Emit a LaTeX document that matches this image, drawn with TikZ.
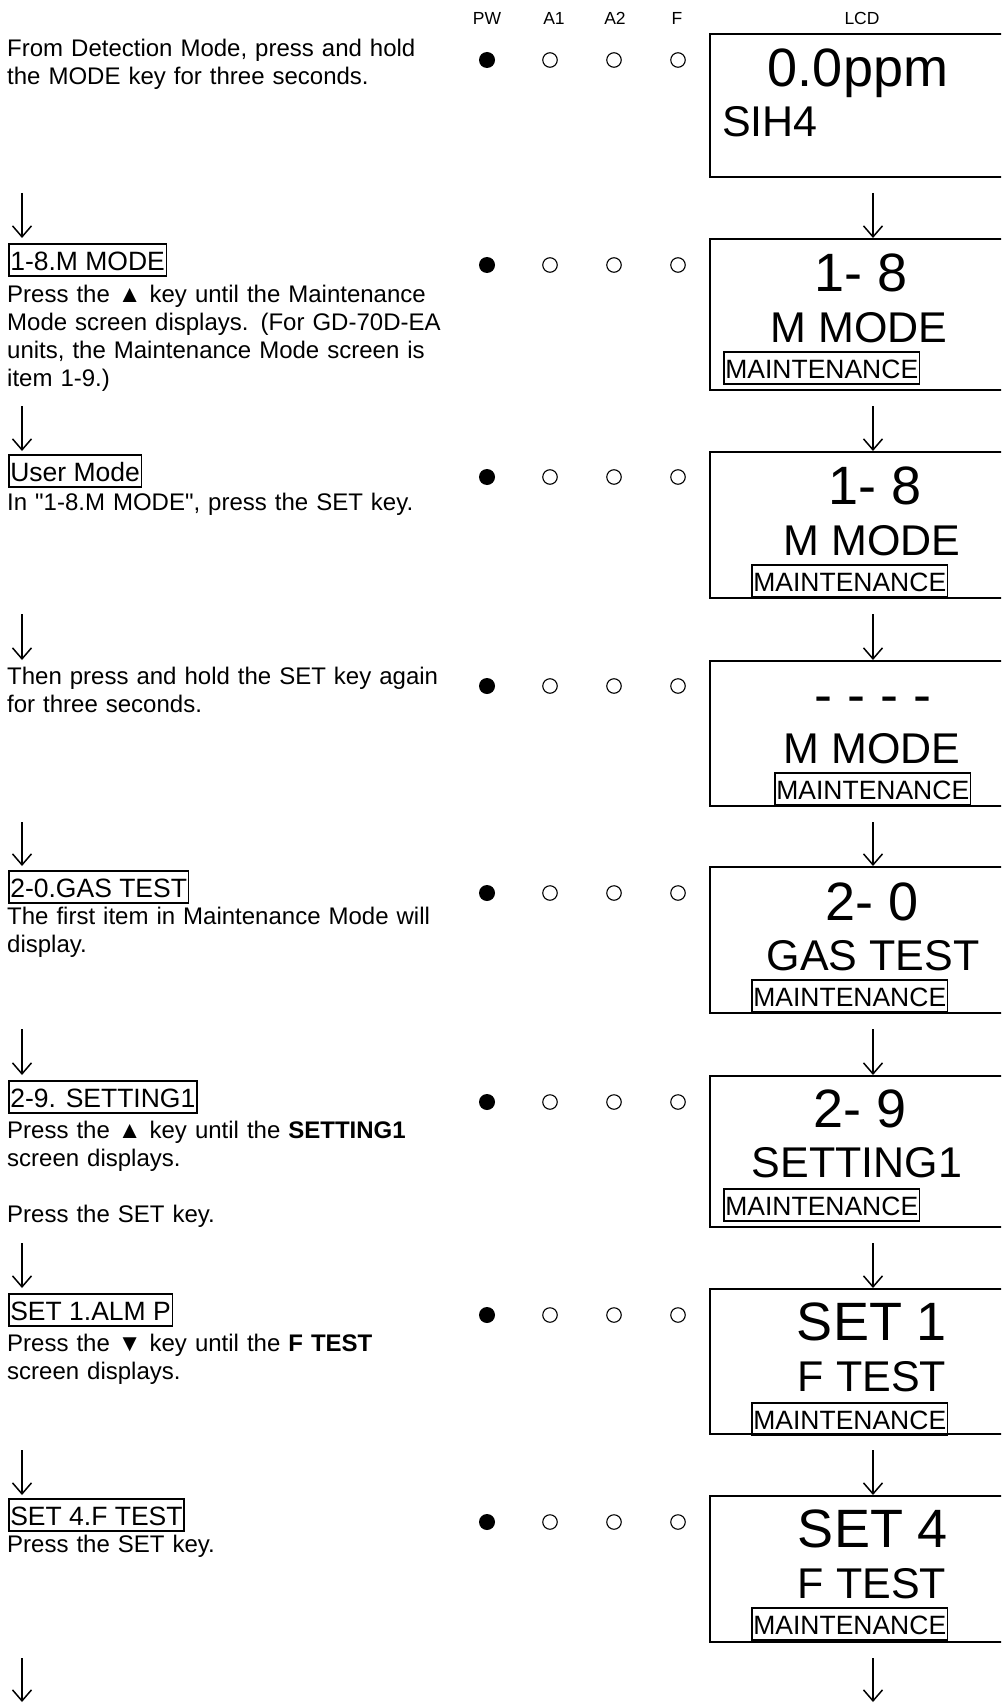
\documentclass[tikz,border=0pt]{standalone}
\usepackage{fontspec}
\setmainfont{Liberation Sans}
\newfontfamily\plainsans{Liberation Sans}
\usetikzlibrary{arrows.meta, calc}

\begin{document}
\begin{tikzpicture}[x=1pt, y=-1pt, >={Straight Barb[length=11pt, width=19pt]},
  every node/.style={inner sep=0pt},
  lcd/.style={draw, line width=2pt, minimum width=326pt},
  tag/.style={draw, line width=1.6pt, anchor=north west, inner xsep=1.5pt, text height=27pt, text depth=5pt, font=\fontsize{26.5}{30}\selectfont},
  note/.style={anchor=base west, text width=480pt, align=left, font=\fontsize{24}{28}\selectfont},
  head/.style={anchor=base, font=\fontsize{17.5}{20}\selectfont},
  big/.style={anchor=base, font=\fontsize{54}{60}\selectfont},
  sub/.style={anchor=base, font=\fontsize{43}{48}\selectfont},
  led on/.style={circle, fill=black, minimum size=16pt},
  led off/.style={circle, draw, line width=1.1pt, minimum size=14.5pt},
  flow/.style={->, line width=1.5pt}]
  \useasboundingbox (0,0) rectangle (1001,1704);
  \clip (0,0) rectangle (1001,1704);

  % column heads
  \node[head] (hPW) at (487,25) {PW};
  \node[head] (hA1) at (554,25) {A1};
  \node[head] (hA2) at (615,25) {A2};
  \node[head] (hF) at (677,25) {F};
  \node[head] (hLCD) at (862,25) {LCD};

  % lamps
  \foreach \y [count=\r] in {60,265,477,686,893,1102,1315,1522} {
    \node[led on] (pw\r) at (487,\y) {};
    \node[led off] (alA\r) at (550,\y) {};
    \node[led off] (alB\r) at (614,\y) {};
    \node[led off] (flt\r) at (678,\y) {};
  }

  % LCD screens
  \node[lcd, minimum height=143pt] (lcd1) at (873,105.5) {};
  \node[lcd, minimum height=151pt] (lcd2) at (873,314.5) {};
  \node[lcd, minimum height=146pt] (lcd3) at (873,525) {};
  \node[lcd, minimum height=145pt] (lcd4) at (873,733.5) {};
  \node[lcd, minimum height=146pt] (lcd5) at (873,940) {};
  \node[lcd, minimum height=151pt] (lcd6) at (873,1151.5) {};
  \node[lcd, minimum height=145pt] (lcd7) at (873,1361.5) {};
  \node[lcd, minimum height=146pt] (lcd8) at (873,1569) {};

  \node[big] (rd1) at (858,87) {0.0ppm};
  \node[anchor=base west, font=\fontsize{43}{48}\selectfont] (gas1) at (722,137) {SIH4};
  \node[big] (rd2) at (861,291) {1- 8};
  \node[sub] (nm2) at (859,342) {M MODE};
  \node[tag] (mt2) at (723,351) {MAINTENANCE};
  \node[big] (rd3) at (875,504) {1- 8};
  \node[sub] (nm3) at (872,555) {M MODE};
  \node[tag] (mt3) at (751,564) {MAINTENANCE};
  \node[big] (rd4) at (873,713) {- - - -};
  \node[sub] (nm4) at (872,763) {M MODE};
  \node[tag] (mt4) at (774,772) {MAINTENANCE};
  \node[big] (rd5) at (872,920) {2- 0};
  \node[sub] (nm5) at (873,970) {GAS TEST};
  \node[tag] (mt5) at (751,979) {MAINTENANCE};
  \node[big] (rd6) at (860,1127) {2- 9};
  \node[sub] (nm6) at (857,1177) {SETTING1};
  \node[tag] (mt6) at (723,1188) {MAINTENANCE};
  \node[big] (rd7) at (872,1340) {SET 1};
  \node[sub] (nm7) at (872,1391) {F TEST};
  \node[tag] (mt7) at (751,1402) {MAINTENANCE};
  \node[big] (rd8) at (873,1547) {SET 4};
  \node[sub] (nm8) at (872,1598) {F TEST};
  \node[tag] (mt8) at (751,1607) {MAINTENANCE};

  % steps
  \node[note] (txt1) at (7,57) {From Detection Mode, press and hold\\the MODE key for three seconds.};
  \node[tag] (lbl2) at (8,243) {1-8.M MODE};
  \node[note] (txt2) at (7,302) {Press the ▲ key until the Maintenance\\Mode screen displays. (For GD-70D-EA\\units, the Maintenance Mode screen is\\item 1-9.)};
  \node[tag] (lbl3) at (8,454) {User Mode};
  \node[note] (txt3) at (7,510) {In {\plainsans"}1-8.M MODE{\plainsans"}, press the SET key.};
  \node[note] (txt4) at (7,684) {Then press and hold the SET key again\\for three seconds.};
  \node[tag] (lbl5) at (8,870) {2-0.GAS TEST};
  \node[note] (txt5) at (7,924) {The first item in Maintenance Mode will\\display.};
  \node[tag] (lbl6) at (8,1080) {2-9. SETTING1};
  \node[note] (txt6) at (7,1138) {Press the ▲ key until the \textbf{SETTING1}\\screen displays.\\[28pt]Press the SET key.};
  \node[tag] (lbl7) at (8,1293) {SET 1.ALM P};
  \node[note] (txt7) at (7,1351) {Press the ▼ key until the \textbf{F TEST}\\screen displays.};
  \node[tag] (lbl8) at (8,1498) {SET 4.F TEST};
  \node[note] (txt8) at (7,1552) {Press the SET key.};

  % arrows
  \coordinate (lft) at (22,0);
  \coordinate (endR) at (873,1702);
  \coordinate (endL) at (22,1702);
  \foreach \a/\b in {1/2,2/3,3/4,4/5,5/6,6/7,7/8} {
    \draw[flow] ($(lcd\a.south)+(0,15)$) -- (lcd\b.north);
    \draw[flow] ($(lcd\a.south -| lft)+(0,15)$) -- (lcd\b.north -| lft);
  }
  \draw[flow] ($(lcd8.south)+(0,15)$) -- (endR);
  \draw[flow] ($(lcd8.south -| lft)+(0,15)$) -- (endL);
\end{tikzpicture}
\end{document}
